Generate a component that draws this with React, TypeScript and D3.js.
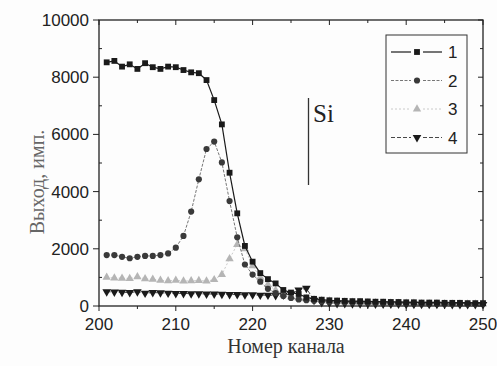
import React from "react";
import * as d3 from "d3";

// channel numbers 201..250
const channels = d3.range(201, 251);

// series 1 - squares
const yield1 = [
  8520, 8570, 8370, 8450, 8290, 8490, 8350, 8290, 8370, 8350,
  8250, 8170, 8140, 7900, 7200, 6350, 4660, 3240, 2100, 1550,
  1150, 940, 790, 560, 470, 420, 300, 250, 220, 200,
  190, 180, 170, 170, 160, 150, 150, 140, 140, 130,
  130, 120, 120, 120, 110, 110, 110, 100, 100, 100,
];
// series 2 - circles
const yield2 = [
  1780, 1780, 1720, 1670, 1720, 1750, 1750, 1780, 1840, 2040,
  2450, 3300, 4430, 5490, 5750, 5020, 3670, 2400, 1450, 1100,
  850, 600, 450, 350, 280, 230, 200, 180, 160, 150,
  140, 130, 120, 120, 110, 110, 100, 100, 100, 90,
  90, 90, 80, 80, 80, 80, 70, 70, 70, 70,
];
// series 3 - triangles
const yield3 = [
  1000, 980, 970, 960, 1020, 950, 930, 900, 880, 900,
  870, 880, 890, 870, 920, 1100, 1650, 2150, 2000, 1400,
  1000, 750, 550, 400, 320, 280, 250, 220, 190, 170,
  150, 140, 130, 120, 110, 110, 100, 100, 90, 90,
  90, 80, 80, 80, 80, 70, 70, 70, 70, 70,
];
// series 4 - inverted triangles
const yield4 = [
  500, 490, 480, 470, 500, 450, 470, 460, 450, 440,
  440, 430, 430, 420, 420, 410, 400, 400, 390, 390,
  380, 380, 370, 380, 420, 560, 620, 200, 120, 100,
  90, 90, 80, 80, 80, 70, 70, 70, 70, 60,
  60, 60, 60, 60, 60, 50, 50, 50, 50, 50,
];

const seriesNames = ["1", "2", "3", "4"];
const xTicks = [200, 210, 220, 230, 240, 250];
const yTicks = [0, 2000, 4000, 6000, 8000, 10000];

const W = 497;
const H = 366;
const left = 99, right = 483, top = 20, bottom = 306;

const sans = "Liberation Sans, Arial, sans-serif";
const serif = "Liberation Serif, Times New Roman, serif";

export default function App() {
  const x = d3.scaleLinear().domain([200, 250]).range([left, right]);
  const y = d3.scaleLinear().domain([0, 10000]).range([bottom, top]);

  const series = [
    { name: seriesNames[0], values: yield1, symbol: d3.symbolSquare, size: 34, rot: 0, fill: "#1a1a1a", stroke: "#1a1a1a", dash: "", lw: 1.2 },
    { name: seriesNames[1], values: yield2, symbol: d3.symbolCircle, size: 30, rot: 0, fill: "#3a3a3a", stroke: "#666", dash: "3,1.5", lw: 0.9 },
    { name: seriesNames[2], values: yield3, symbol: d3.symbolTriangle, size: 30, rot: 0, fill: "#b5b5b5", stroke: "#c4c4c4", dash: "2,2", lw: 0.9 },
    { name: seriesNames[3], values: yield4, symbol: d3.symbolTriangle, size: 32, rot: 180, fill: "#1a1a1a", stroke: "#333", dash: "4,2", lw: 0.9 },
  ];

  const line = d3.line<[number, number]>().x((d) => x(d[0])).y((d) => y(d[1]));

  const xMinor = d3.range(200, 251, 5);
  const yMinor = d3.range(0, 10001, 1000);

  const legendX = 386, legendY = 35, legendW = 81, legendH = 118;

  return (
    <svg width={W} height={H} style={{ position: "absolute", left: 0, top: 0, background: "#fdfdfd" }}>
      {/* series (drawn in reverse so squares are on top) */}
      {[...series].reverse().map((s) => {
        const pts: [number, number][] = channels.map((c, i) => [c, s.values[i]]);
        const sym = d3.symbol().type(s.symbol).size(s.size)();
        return (
          <g key={s.name}>
            <path d={line(pts) || ""} fill="none" stroke={s.stroke} strokeWidth={s.lw} strokeDasharray={s.dash} />
            {pts.map((p, i) => (
              <path key={i} d={sym || ""} fill={s.fill} transform={`translate(${x(p[0])},${y(p[1])}) rotate(${s.rot})`} />
            ))}
          </g>
        );
      })}

      {/* frame */}
      <rect x={left} y={top} width={right - left} height={bottom - top} fill="none" stroke="#222" strokeWidth={1.3} />

      {/* x ticks */}
      {xMinor.map((t) => {
        const major = t % 10 === 0;
        return (
          <g key={"x" + t}>
            <line x1={x(t)} x2={x(t)} y1={bottom} y2={bottom + (major ? 5 : 3)} stroke="#222" />
            <line x1={x(t)} x2={x(t)} y1={top} y2={top + (major ? 5 : 3)} stroke="#222" />
          </g>
        );
      })}
      {xTicks.map((t) => (
        <text key={"xl" + t} x={x(t)} y={330} textAnchor="middle" fontFamily={sans} fontSize={17} fill="#222">
          {t}
        </text>
      ))}

      {/* y ticks */}
      {yMinor.map((t) => {
        const major = t % 2000 === 0;
        return (
          <g key={"y" + t}>
            <line x1={left - (major ? 6 : 0)} x2={left + (major ? 0 : 3)} y1={y(t)} y2={y(t)} stroke="#222" />
            <line x1={right} x2={right - (major ? 5 : 3)} y1={y(t)} y2={y(t)} stroke="#222" />
          </g>
        );
      })}
      {yTicks.map((t) => (
        <text key={"yl" + t} x={left - 10} y={y(t) + 6} textAnchor="end" fontFamily={sans} fontSize={17} fill="#222">
          {t}
        </text>
      ))}

      {/* axis titles */}
      <text x={286} y={353} textAnchor="middle" fontFamily={serif} fontSize={20} fill="#333">
        Номер канала
      </text>
      <text transform={`translate(44,182) rotate(-90)`} textAnchor="middle" fontFamily={serif} fontSize={20} fill="#666">
        Выход, имп.
      </text>

      {/* Si marker */}
      <line x1={308.5} x2={308.5} y1={98} y2={185} stroke="#333" strokeWidth={1.3} />
      <text x={313} y={122} fontFamily={serif} fontSize={25} fill="#222">
        Si
      </text>

      {/* legend */}
      <rect x={legendX} y={legendY} width={legendW} height={legendH} fill="#fdfdfd" stroke="#333" strokeWidth={1} />
      {series.map((s, i) => {
        const ly = 52 + i * 28.5;
        const sym = d3.symbol().type(s.symbol).size(s.size)();
        return (
          <g key={"lg" + s.name}>
            <line x1={391} x2={411} y1={ly} y2={ly} stroke={s.stroke} strokeWidth={s.lw} strokeDasharray={s.dash} />
            <line x1={423} x2={442} y1={ly} y2={ly} stroke={s.stroke} strokeWidth={s.lw} strokeDasharray={s.dash} />
            <path d={sym || ""} fill={s.fill} transform={`translate(417,${ly}) rotate(${s.rot})`} />
            <text x={448} y={ly + 6} fontFamily={sans} fontSize={17} fill="#222">
              {s.name}
            </text>
          </g>
        );
      })}
    </svg>
  );
}
